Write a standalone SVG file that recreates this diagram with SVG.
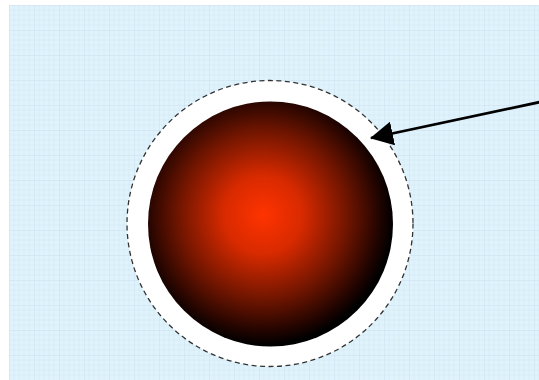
<svg xmlns="http://www.w3.org/2000/svg" width="539" height="380" viewBox="0 0 539 380">
  <defs>
    <pattern id="grid" x="9" y="5" width="25" height="25" patternUnits="userSpaceOnUse">
      <rect width="25" height="25" fill="#e0f3fc"/>
      <path d="M5 0V25M10 0V25M15 0V25M20 0V25M0 5H25M0 10H25M0 15H25M0 20H25" stroke="#d3e8f4" stroke-width="0.6" fill="none"/>
      <path d="M0 0V25M0 0H25" stroke="#c9e0ee" stroke-width="1" fill="none"/>
    </pattern>
    <radialGradient id="ball" cx="263" cy="215" r="130" gradientUnits="userSpaceOnUse">
      <stop offset="0" stop-color="#ff3300"/>
      <stop offset="0.3" stop-color="#d82a00"/>
      <stop offset="0.65" stop-color="#701500"/>
      <stop offset="0.9" stop-color="#200400"/>
      <stop offset="1" stop-color="#000000"/>
    </radialGradient>
    <marker id="arrow" markerWidth="24" markerHeight="24" refX="22" refY="12" orient="auto" markerUnits="userSpaceOnUse">
      <path d="M0 0L23 12L0 24Z" fill="#000"/>
    </marker>
    <style>
      .halo { fill: #ffffff; stroke: #333333; stroke-width: 1.3; stroke-dasharray: 5 3.5; }
      .conn { stroke: #000; stroke-width: 2.8; fill: none; }
    </style>
  </defs>
  <rect x="0" y="0" width="539" height="380" fill="#ffffff"/>
  <rect x="9" y="5" width="530" height="375" fill="url(#grid)"/>
  <g id="sphere">
    <circle class="halo" cx="270" cy="223.5" r="143"/>
    <circle cx="270.5" cy="224" r="122.5" fill="url(#ball)"/>
  </g>
  <g id="connectors">
    <line class="conn" x1="540" y1="102" x2="371" y2="138" marker-end="url(#arrow)"/>
  </g>
</svg>
